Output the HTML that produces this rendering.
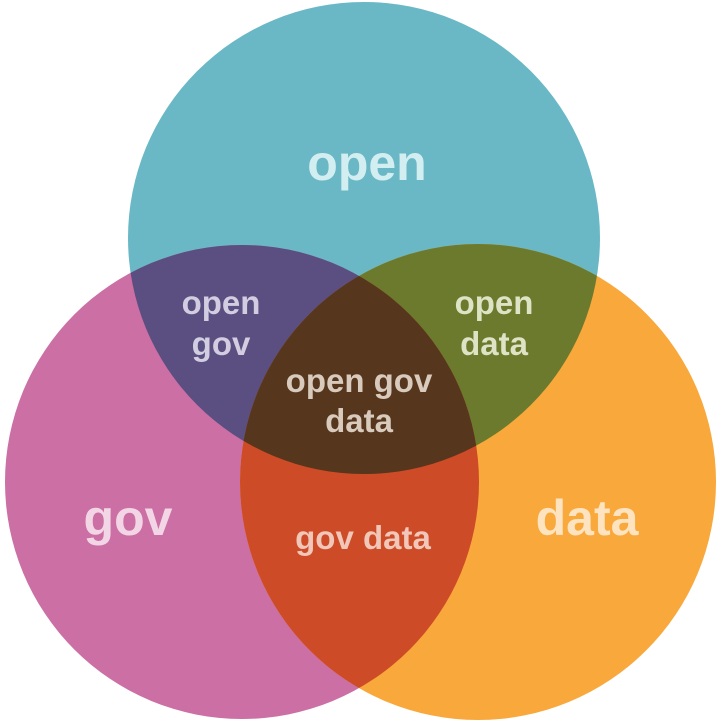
<!DOCTYPE html>
<html><head><style>html,body{margin:0;padding:0;background:#fff}svg{display:block}
text{font-family:"Liberation Sans",sans-serif;font-weight:bold;text-anchor:middle}</style></head>
<body>
<svg width="720" height="720" viewBox="0 0 720 720">
<defs>
<clipPath id="cO"><circle cx="364" cy="238" r="236"/></clipPath>
<clipPath id="cG"><circle cx="242" cy="482" r="237"/></clipPath>
<clipPath id="cD"><circle cx="478" cy="482" r="238"/></clipPath>
</defs>
<circle cx="364" cy="238" r="236" fill="#6ab8c6"/>
<circle cx="242" cy="482" r="237" fill="#cb6fa5"/>
<circle cx="478" cy="482" r="238" fill="#f9a83b"/>
<g clip-path="url(#cO)"><circle cx="242" cy="482" r="237" fill="#5a4f80"/><circle cx="478" cy="482" r="238" fill="#6b7a2d"/></g>
<g clip-path="url(#cG)"><circle cx="478" cy="482" r="238" fill="#cd4b26"/></g>
<g clip-path="url(#cO)"><g clip-path="url(#cG)"><circle cx="478" cy="482" r="238" fill="#56361d"/></g></g>
<text x="367" y="180" font-size="50" fill="#d3eef0">open</text>
<text x="128" y="535" font-size="50" fill="#f3d6e6">gov</text>
<text x="587" y="535" font-size="50" fill="#fde3c0">data</text>
<text x="221" y="314" font-size="33" fill="#d2cde0">open</text>
<text x="221" y="355" font-size="33" fill="#d2cde0">gov</text>
<text x="494" y="314" font-size="33" fill="#dde3c4">open</text>
<text x="494" y="355" font-size="33" fill="#dde3c4">data</text>
<text x="359" y="392" font-size="33" fill="#d8cabc">open gov</text>
<text x="359" y="432" font-size="33" fill="#d8cabc">data</text>
<text x="363" y="549" font-size="33" fill="#f0c7b8">gov data</text>
</svg>
</body></html>
